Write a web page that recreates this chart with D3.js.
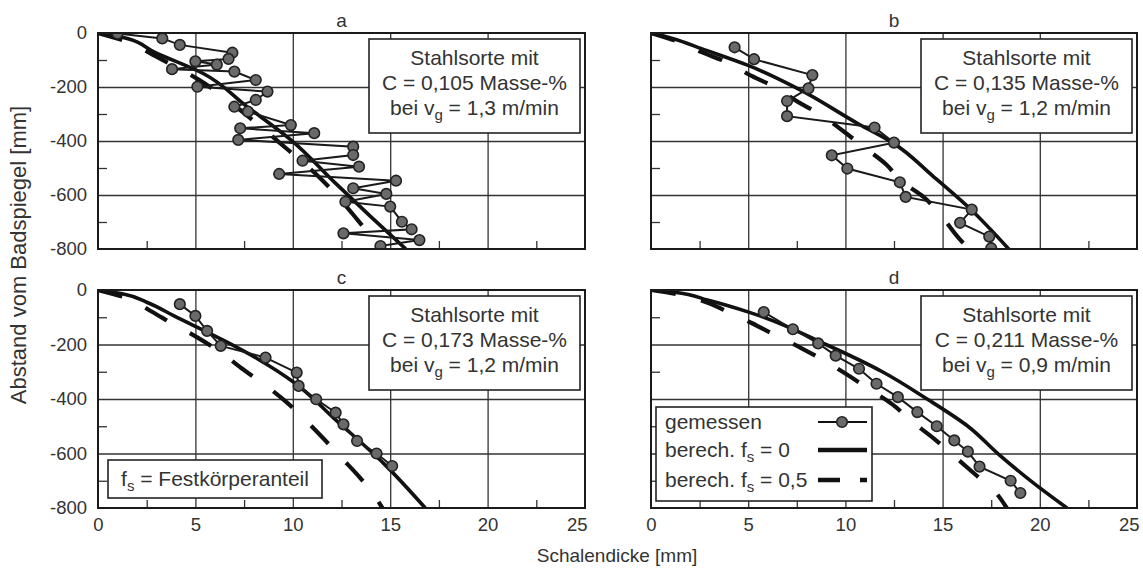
<!DOCTYPE html>
<html>
<head>
<meta charset="utf-8">
<script src="https://cdn.jsdelivr.net/npm/d3@7"></script>
<style>
body { margin: 0; background: #fff; }
svg { font-family: "Liberation Sans", Arial, sans-serif; }
</style>
</head>
<body>
<svg id="chart" width="1143" height="572"></svg>
<script>
// axis values
const xTicks = [0, 5, 10, 15, 20, 25];
const yTicks = [0, -200, -400, -600, -800];
const xMinor = [2.5, 7.5, 12.5, 17.5, 22.5];
const yMinor = [-100, -300, -500, -700];

// panel texts
const panelLetters = ["a", "b", "c", "d"];
const carbon = ["0,105", "0,135", "0,173", "0,211"];
const castSpeed = ["1,3", "1,2", "1,2", "0,9"];

// [Schalendicke mm, Abstand mm]
const measuredA = [[1.0,-2],[3.3,-20],[4.2,-44],[6.9,-73],[6.7,-96],[5.0,-105],[6.1,-117],[3.8,-134],
  [7.0,-143],[8.1,-174],[5.1,-199],[8.7,-217],[8.1,-248],[7.0,-273],[7.7,-291],[9.9,-341],[7.3,-353],
  [11.1,-371],[7.2,-396],[13.1,-421],[13.1,-452],[10.5,-473],[13.4,-495],[9.3,-522],[15.3,-547],
  [13.1,-575],[14.8,-596],[12.7,-625],[15.0,-643],[15.6,-699],[16.1,-727],[12.6,-742],[16.5,-767],[14.5,-789]];
const solidA = [[0,0],[1.2,-15],[3.0,-75],[5.4,-150],[7.6,-270],[9.9,-396],[12.2,-557],[14.0,-680],[15.8,-800]];
const dashedA = [[0,0],[1.4,-30],[3.0,-88],[5.1,-170],[7.2,-280],[9.3,-405],[11.5,-544],[13.3,-690],[14.5,-800]];

const measuredB = [[4.3,-53],[5.3,-97],[8.3,-156],[8.1,-205],[7.0,-252],[7.0,-308],[11.5,-350],[12.5,-406],
  [9.3,-453],[10.1,-502],[12.8,-553],[13.1,-607],[16.5,-654],[15.9,-703],[17.4,-754],[17.5,-797]];
const solidB = [[0,0],[1.1,-20],[2.6,-58],[5.0,-120],[7.6,-208],[10.7,-338],[12.4,-405],[14.5,-530],[16.4,-650],[18.4,-800]];
const dashedB = [[0,0],[1.3,-30],[2.6,-71],[3.9,-108],[5.2,-160],[6.3,-197],[7.6,-257],[8.7,-301],[9.9,-364],
  [10.9,-420],[12.1,-487],[12.9,-550],[14.0,-606],[15.0,-684],[16.0,-773],[16.4,-800]];

const measuredC = [[4.2,-52],[5.0,-95],[5.6,-150],[6.3,-205],[8.6,-248],[10.2,-303],[10.3,-352],[11.2,-401],
  [12.2,-450],[12.6,-493],[13.3,-554],[14.3,-600],[15.1,-646]];
const solidC = [[0,0],[1.3,-15],[2.5,-45],[3.9,-95],[6.5,-187],[8.2,-253],[10.1,-341],[12.1,-470],[14.7,-639],[16.8,-800]];
const dashedC = [[0,0],[1.3,-25],[2.7,-77],[3.85,-125],[5.05,-172],[6.2,-224],[7.35,-286],[8.5,-345],[9.6,-407],
  [10.6,-474],[11.6,-547],[12.5,-616],[13.5,-693],[14.3,-767],[14.6,-800]];

const measuredD = [[5.8,-81],[7.3,-144],[8.6,-196],[9.5,-241],[10.7,-289],[11.6,-344],[12.7,-393],[13.7,-448],
  [14.7,-500],[15.6,-552],[16.3,-593],[16.9,-648],[18.5,-700],[19.0,-745]];
const solidD = [[0,0],[1.2,-8],[2.9,-37],[5.1,-83],[9.0,-200],[11.9,-300],[14.2,-400],[16.3,-500],[17.9,-604],[19.6,-704],[21.4,-800]];
const dashedD = [[0,0],[1.3,-15],[2.7,-41],[3.9,-78],[5.2,-122],[6.4,-166],[7.7,-212],[8.9,-259],[10.1,-311],
  [11.2,-363],[12.4,-419],[13.4,-481],[14.6,-548],[15.5,-604],[16.7,-678],[17.7,-741],[18.3,-800]];

const measured = [measuredA, measuredB, measuredC, measuredD];
const solid = [solidA, solidB, solidC, solidD];
const dashed = [dashedA, dashedB, dashedC, dashedD];

const legendLabels = [["gemessen", "", ""], ["berech. f", "s", " = 0"], ["berech. f", "s", " = 0,5"]];

// layout
const cols = [[98, 585], [651, 1137]];
const rows = [[33, 249], [290, 508]];
const dashPattern = "25,26";

const svg = d3.select("#chart");

panelLetters.forEach(function (letter, i) {
    const col = cols[i % 2], row = rows[Math.floor(i / 2)];
    const x = d3.scaleLinear().domain([0, 25]).range(col);
    const y = d3.scaleLinear().domain([-800, 0]).range([row[1], row[0]]);
    const w = col[1] - col[0], h = row[1] - row[0];
    const g = svg.append("g");

    g.append("clipPath").attr("id", "clip" + i)
        .append("rect").attr("x", col[0]).attr("y", row[0]).attr("width", w).attr("height", h);

    // grid
    g.append("g").attr("transform", "translate(0," + row[1] + ")")
        .call(d3.axisBottom(x).tickValues([5, 10, 15, 20]).tickSize(-h).tickFormat(""))
        .call(a => a.select(".domain").remove())
        .selectAll("line").attr("stroke", "#333").attr("stroke-width", 1.3);
    g.append("g").attr("transform", "translate(" + col[0] + ",0)")
        .call(d3.axisLeft(y).tickValues([-200, -400, -600]).tickSize(-w).tickFormat(""))
        .call(a => a.select(".domain").remove())
        .selectAll("line").attr("stroke", "#333").attr("stroke-width", 1.3);

    // minor ticks
    g.append("g").attr("transform", "translate(0," + row[1] + ")")
        .call(d3.axisBottom(x).tickValues(xMinor).tickSize(-8).tickFormat(""))
        .call(a => a.select(".domain").remove())
        .selectAll("line").attr("stroke", "#333").attr("stroke-width", 1.3);
    g.append("g").attr("transform", "translate(" + col[0] + ",0)")
        .call(d3.axisLeft(y).tickValues(yMinor).tickSize(-9).tickFormat(""))
        .call(a => a.select(".domain").remove())
        .selectAll("line").attr("stroke", "#333").attr("stroke-width", 1.3);

    // tick labels
    if (i % 2 === 0) {
        g.append("g").attr("transform", "translate(" + col[0] + ",0)")
            .call(d3.axisLeft(y).tickValues(yTicks).tickSize(0).tickPadding(11).tickFormat(d => String(d)))
            .call(a => a.select(".domain").remove())
            .selectAll("text").attr("font-size", 18.5).attr("fill", "#333")
            .style("font-family", "'Liberation Sans', Arial, sans-serif");
    }
    if (i >= 2) {
        g.append("g").attr("transform", "translate(0," + row[1] + ")")
            .call(d3.axisBottom(x).tickValues(xTicks).tickSize(0).tickPadding(10).tickFormat(d => String(d)))
            .call(a => a.select(".domain").remove())
            .selectAll("text").attr("font-size", 18.5).attr("fill", "#333")
            .style("font-family", "'Liberation Sans', Arial, sans-serif")
            .filter(d => d === 25).attr("text-anchor", "end").attr("dx", 2);
    }

    // curves
    const line = d3.line().x(d => x(d[0])).y(d => y(d[1]));
    const plot = g.append("g").attr("clip-path", "url(#clip" + i + ")");
    plot.append("path").datum(dashed[i])
        .attr("d", line.curve(d3.curveMonotoneY))
        .attr("fill", "none").attr("stroke", "#111").attr("stroke-width", 4.2)
        .attr("stroke-dasharray", dashPattern);
    plot.append("path").datum(solid[i])
        .attr("d", line.curve(d3.curveMonotoneY))
        .attr("fill", "none").attr("stroke", "#111").attr("stroke-width", 3.6);
    plot.append("path").datum(measured[i])
        .attr("d", line.curve(d3.curveLinear))
        .attr("fill", "none").attr("stroke", "#1a1a1a").attr("stroke-width", 2);
    plot.selectAll("circle").data(measured[i]).enter().append("circle")
        .attr("cx", d => x(d[0])).attr("cy", d => y(d[1])).attr("r", 5.3)
        .attr("fill", "#6a6a6a").attr("stroke", "#222").attr("stroke-width", 1.6);

    // frame
    g.append("rect").attr("x", col[0]).attr("y", row[0]).attr("width", w).attr("height", h)
        .attr("fill", "none").attr("stroke", "#1a1a1a").attr("stroke-width", 2);

    // panel letter
    g.append("text").attr("x", (col[0] + col[1]) / 2).attr("y", row[0] - 6)
        .attr("text-anchor", "middle").attr("font-size", 19).attr("fill", "#333").text(letter);

    // info box
    const bw = 211, bh = 94, bx = col[1] - 5 - bw, by = row[0] + 6;
    g.append("rect").attr("x", bx).attr("y", by).attr("width", bw).attr("height", bh)
        .attr("fill", "#fff").attr("stroke", "#222").attr("stroke-width", 1.6);
    const tx = bx + bw / 2;
    const info = g.append("text").attr("text-anchor", "middle").attr("font-size", 21).attr("fill", "#333");
    info.append("tspan").attr("x", tx).attr("y", by + 26).text("Stahlsorte mit");
    info.append("tspan").attr("x", tx).attr("y", by + 51).text("C = " + carbon[i] + " Masse-%");
    const l3 = info.append("tspan").attr("x", tx).attr("y", by + 76);
    l3.append("tspan").text("bei v");
    l3.append("tspan").attr("font-size", 15).attr("dy", 5).text("g");
    l3.append("tspan").attr("dy", -5).text(" = " + castSpeed[i] + " m/min");

    // fs note in c
    if (i === 2) {
        const fx = col[0] + 10, fy = row[1] - 48;
        g.append("rect").attr("x", fx).attr("y", fy).attr("width", 214).attr("height", 38)
            .attr("fill", "#fff").attr("stroke", "#222").attr("stroke-width", 1.6);
        const ft = g.append("text").attr("x", fx + 107).attr("y", fy + 26).attr("text-anchor", "middle")
            .attr("font-size", 21).attr("fill", "#333");
        ft.append("tspan").text("f");
        ft.append("tspan").attr("font-size", 15).attr("dy", 5).text("s");
        ft.append("tspan").attr("dy", -5).text(" = Festkörperanteil");
    }

    // legend in d
    if (i === 3) {
        const lx = col[0] + 5, ly = row[1] - 101;
        g.append("rect").attr("x", lx).attr("y", ly).attr("width", 216).attr("height", 94)
            .attr("fill", "#fff").attr("stroke", "#222").attr("stroke-width", 1.6);
        const rowsY = [ly + 22, ly + 50, ly + 80];
        legendLabels.forEach(function (lab, k) {
            const t = g.append("text").attr("x", lx + 9).attr("y", rowsY[k]).attr("font-size", 21).attr("fill", "#333");
            t.append("tspan").text(lab[0]);
            if (lab[1]) {
                t.append("tspan").attr("font-size", 15).attr("dy", 5).text(lab[1]);
                t.append("tspan").attr("dy", -5).text(lab[2]);
            }
            const sy = rowsY[k] - 7;
            const s = g.append("line").attr("x1", lx + 162).attr("x2", lx + 211).attr("y1", sy).attr("y2", sy)
                .attr("stroke", "#111");
            if (k === 0) {
                s.attr("stroke-width", 2);
                g.append("circle").attr("cx", lx + 186).attr("cy", sy).attr("r", 5.3)
                    .attr("fill", "#6a6a6a").attr("stroke", "#222").attr("stroke-width", 1.6);
            } else if (k === 1) {
                s.attr("stroke-width", 4.5);
            } else {
                s.attr("stroke-width", 4.5).attr("stroke-dasharray", "22,20");
            }
        });
    }
});

// axis titles
svg.append("text").attr("x", 617).attr("y", 562).attr("text-anchor", "middle")
    .attr("font-size", 19).attr("fill", "#333").text("Schalendicke [mm]");
svg.append("text").attr("transform", "translate(26,255) rotate(-90)").attr("text-anchor", "middle")
    .attr("font-size", 22).attr("fill", "#333").text("Abstand vom Badspiegel [mm]");
</script>
</body>
</html>
